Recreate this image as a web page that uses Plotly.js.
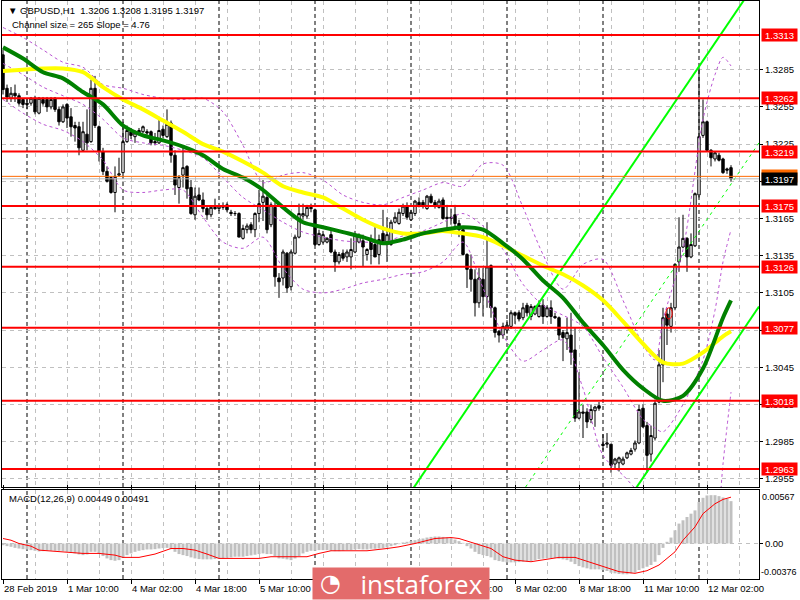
<!DOCTYPE html>
<html><head><meta charset="utf-8">
<script src="https://cdn.plot.ly/plotly-3.0.1.min.js"></script>
<style>html,body{margin:0;padding:0;background:#fff}#chart{width:800px;height:600px}</style>
</head><body><div id="chart"></div>
<script>
// ---------- data (GBPUSD H1) ----------
const openP = [
1.3297,1.3270,1.3262,1.3266,1.3264,1.3261,1.3258,1.3258,1.3262,1.3250,
1.3261,1.3261,1.3255,1.3262,1.3253,1.3243,1.3257,1.3247,1.3240,1.3239,
1.3220,1.3233,1.3227,1.3270,1.3239,1.3219,1.3203,1.3198,1.3186,1.3200,
1.3202,1.3227,1.3235,1.3231,1.3233,1.3235,1.3235,1.3235,1.3227,1.3226,
1.3237,1.3231,1.3242,1.3216,1.3190,1.3200,1.3207,1.3190,1.3168,1.3184,
1.3180,1.3173,1.3168,1.3174,1.3173,1.3174,1.3176,1.3170,1.3169,1.3169,
1.3149,1.3156,1.3160,1.3156,1.3169,1.3178,1.3182,1.3160,1.3174,1.3117,
1.3117,1.3137,1.3110,1.3137,1.3150,1.3167,1.3167,1.3174,1.3172,1.3144,
1.3146,1.3146,1.3152,1.3138,1.3130,1.3137,1.3134,1.3134,1.3138,1.3146,
1.3147,1.3136,1.3148,1.3144,1.3136,1.3153,1.3144,1.3144,1.3162,1.3161,
1.3169,1.3175,1.3164,1.3169,1.3178,1.3178,1.3173,1.3183,1.3178,1.3174,
1.3180,1.3166,1.3165,1.3168,1.3161,1.3156,1.3136,1.3124,1.3116,1.3097,
1.3116,1.3102,1.3127,1.3093,1.3074,1.3071,1.3075,1.3078,1.3089,1.3089,
1.3085,1.3095,1.3086,1.3088,1.3086,1.3095,1.3086,1.3093,1.3086,1.3085,
1.3073,1.3068,1.3071,1.3059,1.3004,1.3009,1.3009,1.3003,1.3010,1.3014,
1.2983,1.2983,1.2983,1.2967,1.2968,1.2967,1.2972,1.2975,1.2979,1.2984,
1.3012,1.2998,1.2975,1.2988,1.3017,1.3047,1.3088,1.3078,1.3093,1.3130,
1.3142,1.3149,1.3134,1.3143,1.3184,1.3232,1.3243,1.3220,1.3213,1.3216,
1.3213,1.3205,1.3206];
const highP = [
1.3301,1.3273,1.3271,1.3273,1.3266,1.3262,1.3262,1.3263,1.3264,1.3263,
1.3263,1.3263,1.3263,1.3263,1.3255,1.3257,1.3258,1.3254,1.3243,1.3243,
1.3243,1.3253,1.3277,1.3280,1.3240,1.3222,1.3207,1.3199,1.3207,1.3214,
1.3243,1.3240,1.3238,1.3236,1.3238,1.3240,1.3237,1.3236,1.3234,1.3247,
1.3240,1.3253,1.3244,1.3220,1.3200,1.3222,1.3208,1.3196,1.3190,1.3190,
1.3186,1.3175,1.3175,1.3181,1.3176,1.3178,1.3178,1.3172,1.3171,1.3170,
1.3160,1.3161,1.3162,1.3170,1.3188,1.3196,1.3186,1.3178,1.3178,1.3121,
1.3140,1.3138,1.3140,1.3152,1.3177,1.3177,1.3176,1.3177,1.3173,1.3156,
1.3155,1.3150,1.3155,1.3140,1.3138,1.3140,1.3140,1.3149,1.3155,1.3153,
1.3152,1.3141,1.3152,1.3158,1.3152,1.3172,1.3166,1.3164,1.3170,1.3173,
1.3177,1.3178,1.3172,1.3180,1.3182,1.3180,1.3184,1.3185,1.3180,1.3181,
1.3182,1.3176,1.3173,1.3176,1.3164,1.3157,1.3137,1.3136,1.3124,1.3125,
1.3125,1.3162,1.3128,1.3094,1.3075,1.3081,1.3083,1.3091,1.3090,1.3091,
1.3097,1.3097,1.3096,1.3095,1.3099,1.3100,1.3095,1.3099,1.3089,1.3086,
1.3075,1.3085,1.3089,1.3077,1.3041,1.3015,1.3012,1.3015,1.3014,1.3017,
1.2991,1.2992,1.2983,1.2972,1.2973,1.2973,1.2977,1.2980,1.2986,1.3015,
1.3015,1.3001,1.2998,1.3019,1.3059,1.3093,1.3093,1.3097,1.3129,1.3166,
1.3168,1.3150,1.3153,1.3186,1.3287,1.3261,1.3244,1.3221,1.3219,1.3218,
1.3214,1.3206,1.3208];
const lowP = [
1.3265,1.3259,1.3259,1.3259,1.3256,1.3254,1.3253,1.3256,1.3249,1.3249,
1.3256,1.3251,1.3253,1.3251,1.3240,1.3242,1.3238,1.3231,1.3227,1.3216,
1.3219,1.3220,1.3226,1.3238,1.3211,1.3200,1.3194,1.3185,1.3170,1.3199,
1.3200,1.3226,1.3229,1.3226,1.3232,1.3234,1.3232,1.3224,1.3224,1.3225,
1.3230,1.3230,1.3210,1.3184,1.3177,1.3190,1.3181,1.3168,1.3164,1.3179,
1.3170,1.3164,1.3166,1.3172,1.3171,1.3172,1.3170,1.3167,1.3167,1.3150,
1.3148,1.3153,1.3153,1.3150,1.3162,1.3163,1.3153,1.3158,1.3110,1.3101,
1.3111,1.3105,1.3107,1.3136,1.3149,1.3164,1.3165,1.3170,1.3143,1.3143,
1.3144,1.3145,1.3137,1.3122,1.3128,1.3131,1.3130,1.3124,1.3137,1.3145,
1.3126,1.3131,1.3128,1.3134,1.3128,1.3145,1.3130,1.3143,1.3161,1.3160,
1.3167,1.3164,1.3163,1.3167,1.3174,1.3173,1.3172,1.3177,1.3173,1.3173,
1.3164,1.3156,1.3160,1.3157,1.3150,1.3135,1.3109,1.3106,1.3086,1.3093,
1.3086,1.3093,1.3085,1.3069,1.3065,1.3068,1.3072,1.3076,1.3080,1.3082,
1.3083,1.3086,1.3083,1.3087,1.3085,1.3080,1.3085,1.3080,1.3084,1.3067,
1.3050,1.3059,1.3047,1.3001,1.3003,1.2988,1.2996,1.3000,1.2997,1.3010,
1.2978,1.2980,1.2960,1.2963,1.2961,1.2966,1.2971,1.2974,1.2977,1.2983,
1.2996,1.2960,1.2969,1.2986,1.3016,1.3033,1.3063,1.3073,1.3091,1.3122,
1.3141,1.3122,1.3133,1.3142,1.3182,1.3230,1.3219,1.3207,1.3211,1.3211,
1.3201,1.3201,1.3195];
const closeP = [
1.3269,1.3263,1.3266,1.3264,1.3258,1.3257,1.3257,1.3262,1.3251,1.3262,
1.3258,1.3255,1.3261,1.3253,1.3243,1.3255,1.3246,1.3239,1.3238,1.3222,
1.3235,1.3226,1.3270,1.3240,1.3219,1.3203,1.3195,1.3186,1.3199,1.3201,
1.3227,1.3236,1.3232,1.3234,1.3236,1.3239,1.3234,1.3226,1.3226,1.3236,
1.3232,1.3241,1.3216,1.3192,1.3198,1.3206,1.3189,1.3169,1.3183,1.3180,
1.3173,1.3168,1.3174,1.3173,1.3175,1.3175,1.3172,1.3169,1.3169,1.3150,
1.3157,1.3159,1.3156,1.3169,1.3177,1.3183,1.3156,1.3176,1.3118,1.3114,
1.3138,1.3109,1.3138,1.3150,1.3169,1.3169,1.3174,1.3173,1.3144,1.3153,
1.3152,1.3149,1.3138,1.3130,1.3136,1.3133,1.3138,1.3140,1.3152,1.3151,
1.3142,1.3140,1.3140,1.3134,1.3148,1.3146,1.3152,1.3162,1.3166,1.3170,
1.3175,1.3166,1.3170,1.3179,1.3176,1.3175,1.3183,1.3178,1.3175,1.3179,
1.3165,1.3165,1.3166,1.3161,1.3156,1.3136,1.3124,1.3116,1.3097,1.3117,
1.3102,1.3126,1.3093,1.3073,1.3071,1.3078,1.3079,1.3089,1.3087,1.3084,
1.3093,1.3089,1.3094,1.3094,1.3095,1.3086,1.3093,1.3086,1.3085,1.3071,
1.3069,1.3073,1.3057,1.3004,1.3009,1.3008,1.3001,1.3011,1.3013,1.3012,
1.2982,1.2984,1.2966,1.2971,1.2972,1.2971,1.2976,1.2978,1.2984,1.3011,
1.2997,1.2974,1.2990,1.3016,1.3047,1.3085,1.3079,1.3093,1.3128,1.3142,
1.3149,1.3134,1.3144,1.3185,1.3231,1.3243,1.3220,1.3214,1.3218,1.3212,
1.3202,1.3204,1.3197];

// moving averages (sampled every 5 bars)
const maIdx = [0,5,10,15,20,25,30,35,40,45,50,55,60,65,70,75,80,85,90,95,100,105,110,115,120,125,130,135,140,145,150,155,160,165,170,175,180,182];
const maYellow = [1.3284,1.3285,1.3286,1.3286,1.3283,1.3271,1.3261,1.3253,1.3244,1.3235,1.3225,1.3219,1.3211,1.3202,1.3191,1.3186,1.3182,1.3173,1.3164,1.3157,1.3153,1.3153,1.3155,1.3153,1.3150,1.3143,1.3135,1.3127,1.3120,1.3111,1.3099,1.3082,1.3064,1.3049,1.3048,1.3057,1.3070,1.3074];
const maGreen = [1.3303,1.3294,1.3283,1.3278,1.3267,1.3257,1.3240,1.3232,1.3228,1.3223,1.3216,1.3205,1.3198,1.3188,1.3174,1.3162,1.3158,1.3154,1.3150,1.3145,1.3148,1.3153,1.3156,1.3158,1.3156,1.3145,1.3132,1.3115,1.3101,1.3081,1.3063,1.3043,1.3028,1.3018,1.3022,1.3044,1.3085,1.3099];

// Bollinger-type dashed bands
const bandIdx = [0,5,10,15,20,25,30,35,40,45,50,55,60,65,70,75,80,85,90,95,100,105,110,115,120,125,130,135,140,145,150,155,160,163,165,170,175,178,180,182];
const bandUpper = [1.3319,1.3311,1.3301,1.3291,1.3287,1.3273,1.3270,1.3265,1.3262,1.3261,1.3262,1.3251,1.3224,1.3194,1.3200,1.3202,1.3196,1.3184,1.3178,1.3176,1.3182,1.3188,1.3194,1.3191,1.3209,1.3208,1.3174,1.3136,1.3108,1.3128,1.3132,1.3099,1.3063,1.3051,1.3083,1.3140,1.3245,1.3281,1.3295,1.3288];
const bandMid = [1.3290,1.3281,1.3271,1.3264,1.3257,1.3245,1.3230,1.3226,1.3224,1.3220,1.3214,1.3198,1.3182,1.3172,1.3162,1.3154,1.3150,1.3147,1.3146,1.3146,1.3151,1.3155,1.3162,1.3169,1.3159,1.3140,1.3112,1.3095,1.3087,1.3078,1.3053,1.3029,1.3003,1.2996,1.2993,1.3015,1.3051,1.3091,1.3130,1.3156];
const bandLower = [1.3261,1.3250,1.3241,1.3236,1.3227,1.3212,1.3188,1.3186,1.3188,1.3188,1.3166,1.3146,1.3141,1.3150,1.3125,1.3108,1.3105,1.3108,1.3113,1.3116,1.3120,1.3122,1.3130,1.3146,1.3109,1.3071,1.3050,1.3059,1.3067,1.3028,1.2974,1.2958,1.2942,1.2941,1.2903,1.2890,1.2858,1.2894,1.2967,1.3025];

// regression channel (end points)
const chanIdx = [0, 189];
const chanUpper = [1.2459, 1.3359];
const chanMid = [1.2327, 1.3226];
const chanLower = [1.2194, 1.3094];

// horizontal levels
const levels = [1.3313, 1.3262, 1.3219, 1.3175, 1.3126, 1.3077, 1.3018, 1.2963];
const levelOrange = 1.3199, levelOrangeText = '1.3200';
const lastPrice = 1.3197;

// MACD(12,26,9)
const macdHist = [
-0.00018,-0.00028,-0.00035,-0.00046,-0.00053,-0.00060,-0.00063,-0.00070,-0.00077,-0.00084,
-0.00081,-0.00077,-0.00077,-0.00077,-0.00077,-0.00081,-0.00088,-0.00095,-0.00105,-0.00116,
-0.00123,-0.00116,-0.00088,-0.00088,-0.00112,-0.00133,-0.00158,-0.00176,-0.00183,-0.00176,
-0.00147,-0.00123,-0.00105,-0.00088,-0.00077,-0.00070,-0.00063,-0.00063,-0.00060,-0.00053,
-0.00049,-0.00046,-0.00060,-0.00088,-0.00112,-0.00123,-0.00133,-0.00147,-0.00158,-0.00165,
-0.00168,-0.00168,-0.00168,-0.00165,-0.00161,-0.00158,-0.00151,-0.00147,-0.00140,-0.00140,
-0.00140,-0.00133,-0.00126,-0.00119,-0.00112,-0.00105,-0.00112,-0.00112,-0.00133,-0.00158,
-0.00161,-0.00168,-0.00176,-0.00158,-0.00133,-0.00105,-0.00088,-0.00077,-0.00077,-0.00070,
-0.00070,-0.00070,-0.00077,-0.00081,-0.00081,-0.00077,-0.00070,-0.00070,-0.00063,-0.00060,
-0.00063,-0.00063,-0.00056,-0.00056,-0.00053,-0.00049,-0.00042,-0.00028,-0.00018,-0.00007,
0.00011,0.00018,0.00025,0.00035,0.00046,0.00053,0.00063,0.00070,0.00074,0.00074,
0.00070,0.00063,0.00056,0.00042,0.00025,0.00007,-0.00028,-0.00053,-0.00088,-0.00112,
-0.00123,-0.00133,-0.00147,-0.00176,-0.00186,-0.00193,-0.00200,-0.00200,-0.00200,-0.00197,
-0.00193,-0.00190,-0.00186,-0.00176,-0.00165,-0.00161,-0.00158,-0.00154,-0.00154,-0.00161,
-0.00168,-0.00176,-0.00193,-0.00218,-0.00239,-0.00253,-0.00263,-0.00274,-0.00274,-0.00274,
-0.00281,-0.00291,-0.00309,-0.00316,-0.00323,-0.00326,-0.00326,-0.00316,-0.00309,-0.00281,
-0.00263,-0.00246,-0.00228,-0.00193,-0.00123,-0.00046,0.00018,0.00063,0.00140,0.00211,
0.00246,0.00281,0.00316,0.00351,0.00439,0.00484,0.00509,0.00512,0.00512,0.00502,
0.00488,0.00474,0.00449];
const sigIdx = [0,2,4,7,9,12,16,20,24,28,30,34,38,42,45,48,51,54,58,64,67,71,76,79,82,87,91,96,99,103,108,112,114,118,122,125,128,132,135,139,143,147,151,154,158,161,164,168,170,173,175,178,180,182];
const sigVal = [0.00053,0.00035,0.00000,-0.00028,-0.00070,-0.00081,-0.00095,-0.00105,-0.00105,-0.00123,-0.00147,-0.00147,-0.00112,-0.00053,-0.00053,-0.00070,-0.00112,-0.00158,-0.00158,-0.00158,-0.00140,-0.00140,-0.00140,-0.00105,-0.00077,-0.00077,-0.00077,-0.00053,-0.00035,0.00000,0.00053,0.00063,0.00053,0.00000,-0.00053,-0.00140,-0.00176,-0.00193,-0.00176,-0.00147,-0.00147,-0.00204,-0.00263,-0.00298,-0.00316,-0.00288,-0.00228,-0.00088,0.00035,0.00176,0.00316,0.00421,0.00467,0.00491];
const macdMax = 0.00567, macdMin = -0.00376;

// axis labels
const xTickIdx = [0,16,32,48,64,80,96,112,128,144,160,176];
const xTickLabels = ['28 Feb 2019','1 Mar 10:00','4 Mar 02:00','4 Mar 18:00','5 Mar 10:00','6 Mar 02:00','6 Mar 18:00','7 Mar 10:00','8 Mar 02:00','8 Mar 18:00','11 Mar 10:00','12 Mar 02:00'];
const daySepIdx = [6,30,54,78,102,126,150,174];
const priceTicks = [1.2955,1.2985,1.3015,1.3045,1.3075,1.3105,1.3135,1.3165,1.3195,1.3225,1.3255,1.3285];
const priceTickText = ['1.2955','1.2985','1.3015','1.3045','1.3075','1.3105','1.3135','1.3165','','1.3225','1.3255','1.3285'];

// ---------- drawing ----------
const FONT = 'Liberation Sans, Arial, sans-serif';
const barIdx = openP.map((_, i) => i);
const gridIdx = []; for (let g = 0; g <= 188; g += 8) gridIdx.push(g);
const GRID = '#c0c0c0';

const traces = [];
const band = (xs, ys) => ({type:'scatter', mode:'lines', x:xs, y:ys, xaxis:'x', yaxis:'y',
  line:{color:'#ba55d3', width:1, dash:'3px,3px', shape:'spline', smoothing:0.8}, hoverinfo:'skip'});
traces.push(band(bandIdx, bandUpper), band(bandIdx, bandMid), band(bandIdx, bandLower));
traces.push({type:'scatter', mode:'lines', x:chanIdx, y:chanMid, xaxis:'x', yaxis:'y',
  line:{color:'#00ff00', width:1, dash:'3px,4px'}, hoverinfo:'skip'});
traces.push({type:'scatter', mode:'lines', x:chanIdx, y:chanUpper, xaxis:'x', yaxis:'y',
  line:{color:'#00ff00', width:2}, hoverinfo:'skip'});
traces.push({type:'scatter', mode:'lines', x:chanIdx, y:chanLower, xaxis:'x', yaxis:'y',
  line:{color:'#00ff00', width:2}, hoverinfo:'skip'});
traces.push({type:'scatter', mode:'lines', x:maIdx, y:maYellow, xaxis:'x', yaxis:'y',
  line:{color:'#ffff00', width:4, shape:'spline', smoothing:0.8}, hoverinfo:'skip'});
traces.push({type:'scatter', mode:'lines', x:maIdx, y:maGreen, xaxis:'x', yaxis:'y',
  line:{color:'#008000', width:4, shape:'spline', smoothing:0.8}, hoverinfo:'skip'});
traces.push({type:'candlestick', x:barIdx, open:openP, high:highP, low:lowP, close:closeP,
  xaxis:'x', yaxis:'y', whiskerwidth:0,
  increasing:{line:{color:'#000000', width:1}, fillcolor:'#ffffff'},
  decreasing:{line:{color:'#000000', width:1}, fillcolor:'#000000'}, hoverinfo:'skip'});
traces.push({type:'bar', x:barIdx, y:macdHist, xaxis:'x', yaxis:'y2',
  marker:{color:'#c0c0c0', line:{width:0}}, hoverinfo:'skip'});
traces.push({type:'scatter', mode:'lines', x:sigIdx, y:sigVal, xaxis:'x', yaxis:'y2',
  line:{color:'#ff0000', width:1}, hoverinfo:'skip'});

const shapes = [];
daySepIdx.forEach(d => {
  ['y domain','y2 domain'].forEach(yr => shapes.push({type:'line', xref:'x', yref:yr, x0:d, x1:d, y0:0, y1:1,
    line:{color:'#000000', width:1, dash:'4px,3px'}, layer:'below'}));
});
shapes.push({type:'line', xref:'paper', yref:'y', x0:0, x1:1, y0:lastPrice, y1:lastPrice, line:{color:'#b8b8b8', width:1}, layer:'above'});
shapes.push({type:'line', xref:'paper', yref:'y', x0:0, x1:1, y0:levelOrange, y1:levelOrange, line:{color:'#ff6a00', width:1}, layer:'above'});
levels.forEach(v => shapes.push({type:'line', xref:'paper', yref:'y', x0:0, x1:1, y0:v, y1:v,
  line:{color:'#ff0000', width:2}, layer:'above'}));
shapes.push({type:'circle', xref:'x', yref:'y', x0:165.7, x1:167.3, y0:1.3084, y1:1.3093, line:{color:'#ff0000', width:1}, layer:'above'});

const ann = [];
const boxLabel = (v, txt, bg, fg) => ({xref:'paper', yref:'y', x:1, y:v, xanchor:'left', yanchor:'middle', xshift:2,
  text:txt, showarrow:false, bgcolor:bg, font:{family:FONT, size:9.5, color:fg}, width:35, height:12, borderpad:0, align:'center'});
ann.push(boxLabel(levelOrange, levelOrangeText, '#ff6a00', '#ffffff'));
ann.push(boxLabel(lastPrice, lastPrice.toFixed(4), '#000000', '#ffffff'));
levels.forEach(v => ann.push(boxLabel(v, v.toFixed(4), '#ff0000', '#ffffff')));
ann.push({xref:'paper', yref:'y2', x:1, y:macdMax, xanchor:'left', yanchor:'top', xshift:1, text:macdMax.toFixed(5), showarrow:false, font:{family:FONT, size:9, color:'#000'}});
ann.push({xref:'paper', yref:'y2', x:1, y:macdMin, xanchor:'left', yanchor:'bottom', xshift:0, text:macdMin.toFixed(5), showarrow:false, font:{family:FONT, size:9, color:'#000'}});
xTickIdx.forEach((xi, k) => ann.push({xref:'x', yref:'paper', x:xi, y:-0.0156, xanchor:'left', yanchor:'middle', xshift:-1,
  text:xTickLabels[k], showarrow:false, font:{family:FONT, size:9.5, color:'#000'}}));
ann.push({xref:'paper', yref:'paper', x:0.0053, y:0.9844, xanchor:'left', yanchor:'middle',
  text:'\u25BC GBPUSD,H1  1.3206 1.3208 1.3195 1.3197', showarrow:false, font:{family:FONT, size:9.5, color:'#000'}});
ann.push({xref:'paper', yref:'paper', x:0.0106, y:0.9602, xanchor:'left', yanchor:'middle',
  text:'Channel size = 265 Slope = 4.76', showarrow:false, font:{family:FONT, size:9.5, color:'#000'}});
ann.push({xref:'paper', yref:'paper', x:0.0066, y:0.1401, xanchor:'left', yanchor:'middle',
  text:'MACD(12,26,9) 0.00449 0.00491', showarrow:false, font:{family:FONT, size:9.5, color:'#000'}});
// watermark logo
ann.push({xref:'paper', yref:'paper', x:0.4095, y:-0.0363, xanchor:'left', yanchor:'bottom',
  text:'instaforex\u00a0', showarrow:false, bgcolor:'#e36b6b', width:176, height:31, align:'right', borderpad:0,
  font:{family:'Open Sans, sans-serif', size:26, color:'#ffffff'}});
ann.push({xref:'paper', yref:'paper', x:0.4095, y:-0.0363, xanchor:'left', yanchor:'bottom', xshift:6, yshift:1,
  text:'\u25D4', showarrow:false, font:{family:'DejaVu Sans, sans-serif', size:24, color:'#ffffff'}});

const axFont = {family:FONT, size:9.5, color:'#000'};
const layout = {
  width:800, height:600, margin:{l:2, r:41, t:1, b:21},
  paper_bgcolor:'#ffffff', plot_bgcolor:'#ffffff', showlegend:false, hovermode:false,
  bargap:0.25, boxgap:0.15,
  xaxis:{range:[-0.25,189], anchor:'y2', tickmode:'array', tickvals:xTickIdx, showticklabels:false,
    ticks:'outside', ticklen:4, tickcolor:'#000', showgrid:true, gridcolor:GRID, griddash:'4px,4px', gridwidth:1,
    minor:{tickmode:'array', tickvals:gridIdx, showgrid:true, gridcolor:GRID, griddash:'4px,4px', gridwidth:1, ticks:''},
    showline:true, linecolor:'#000', linewidth:1, mirror:'all', zeroline:false,
    rangeslider:{visible:false}, fixedrange:true},
  yaxis:{domain:[0.1592,1], range:[1.29485,1.33404], side:'right', anchor:'x', tickmode:'array', tickvals:priceTicks,
    ticktext:priceTickText,
    ticks:'outside', ticklen:3, tickcolor:'#000', tickfont:axFont,
    showgrid:true, gridcolor:GRID, griddash:'4px,4px', gridwidth:1,
    showline:true, linecolor:'#000', linewidth:1, mirror:true, zeroline:false, fixedrange:true},
  yaxis2:{domain:[0,0.154], range:[macdMin, macdMax], side:'right', anchor:'x', tickmode:'array', tickvals:[0], ticktext:['0.00'],
    ticks:'outside', ticklen:3, tickcolor:'#000', tickfont:axFont,
    showgrid:true, gridcolor:GRID, griddash:'4px,4px', gridwidth:1,
    showline:true, linecolor:'#000', linewidth:1, mirror:true, zeroline:false, fixedrange:true},
  shapes:shapes, annotations:ann
};
Plotly.newPlot('chart', traces, layout, {staticPlot:true, displayModeBar:false});
</script>
</body></html>
